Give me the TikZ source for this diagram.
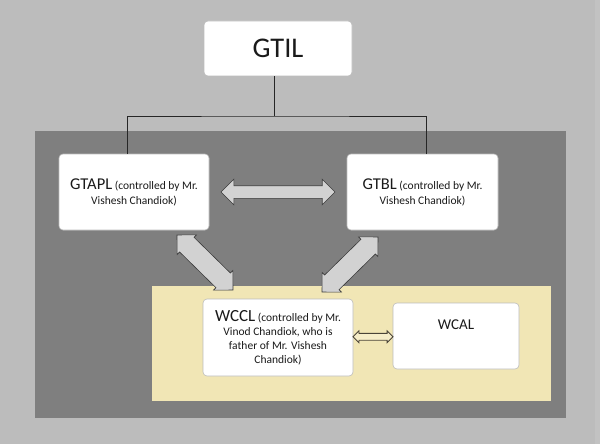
\documentclass[tikz,border=0pt]{standalone}
\usepackage{fontspec}
\setmainfont{Carlito}
\usetikzlibrary{shapes.arrows,calc}
\definecolor{bgc}{HTML}{BCBCBC}
\definecolor{bgr}{HTML}{C2C2C2}
\definecolor{darkc}{HTML}{7F7F7F}
\definecolor{yel}{HTML}{F1E6B5}
\definecolor{txt}{HTML}{1A1A1A}
\definecolor{edgec}{HTML}{BDBDBD}
\definecolor{arrfill}{HTML}{D2D2D2}
\definecolor{arrline}{HTML}{3A3A3A}
\definecolor{smallfill}{HTML}{F6EDC8}
\definecolor{smallline}{HTML}{4A4438}
\begin{document}
\begin{tikzpicture}[x=1pt,y=-1pt,
  box/.style={draw=edgec, line width=0.6pt, fill=white, rounded corners=4pt,
    text=txt, align=center, inner sep=0pt, font=\fontsize{11.5}{15}\selectfont},
  blockarrow/.style={double arrow, draw=arrline, fill=arrfill, line width=0.6pt,
    inner sep=0pt, double arrow head extend=3pt},
  tree/.style={draw=black!85, line width=0.9pt}]
\useasboundingbox (0,0) rectangle (600,444);
\fill[bgc] (0,0) rectangle (600,444);
\fill[bgr] (595,0) rectangle (600,444);
\fill[darkc] (35,131) rectangle (566,418);
\fill[yel] (152,286) rectangle (551,401);

\node[box, minimum width=148pt, minimum height=55pt] (gtil) at (278,48.5)
  {\fontsize{28.5}{30}\selectfont GTIL};
\node[box, minimum width=150pt, minimum height=76pt] (gtapl) at (134,192)
  {{\fontsize{16.5}{18}\selectfont GTAPL} (controlled by Mr.\\Vishesh Chandiok)};
\node[box, minimum width=151pt, minimum height=76pt] (gtbl) at (422.5,192)
  {{\fontsize{16.5}{18}\selectfont GTBL} (controlled by Mr.\\Vishesh Chandiok)};
\node[box, minimum width=150pt, minimum height=77pt, font=\fontsize{11.5}{14}\selectfont] (wccl) at (278,337.5)
  {{\fontsize{17}{18}\selectfont WCCL} (controlled by Mr.\\Vinod Chandiok, who is\\father of Mr. Vishesh\\Chandiok)};
\node[box, minimum width=126pt, minimum height=66pt] (wcal) at (456,336)
  {\fontsize{15}{18}\selectfont WCAL\\[8pt]};

% tree connectors
\coordinate (bus) at (274,116);
\coordinate (lt) at (127,0);
\coordinate (rt) at (426,0);
\draw[tree] (bus |- gtil.south) -- (bus);
\draw[tree] (gtapl.north -| lt) |- (bus) -| (gtbl.north -| rt);

% block arrows
\node[blockarrow, minimum height=114pt, inner sep=6pt, double arrow head extend=6.5pt]
  (hab) at ($(gtapl.east)!0.5!(gtbl.west)$) {};
\node[blockarrow, minimum height=78.5pt, inner sep=10pt, double arrow head extend=3.5pt, rotate=-44.5]
  (la) at (205,262.5) {};
\node[blockarrow, minimum height=78.5pt, inner sep=10pt, double arrow head extend=3.5pt, rotate=44.5]
  (ra) at (350,264.5) {};
\node[blockarrow, draw=smallline, fill=smallfill, line width=0.8pt, minimum height=40pt,
  inner sep=3pt, double arrow head extend=2.5pt]
  (sa) at ($(wccl.east)!0.5!(wcal.west)$) {};
\end{tikzpicture}
\end{document}
